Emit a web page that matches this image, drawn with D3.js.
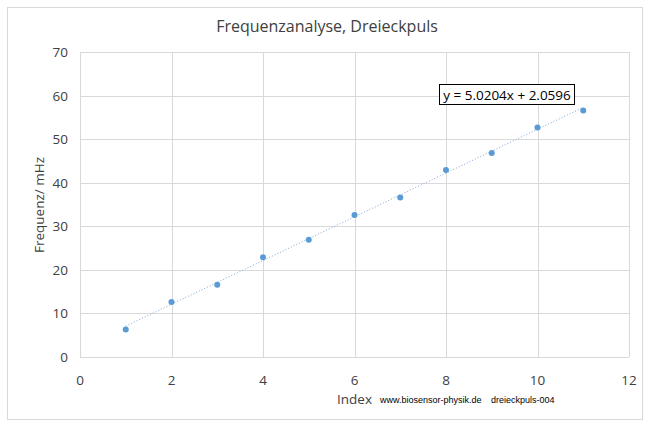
<!DOCTYPE html>
<html><head><meta charset="utf-8">
<script src="https://cdn.jsdelivr.net/npm/d3@7"></script>
<style>body{margin:0;background:#fff;}svg{display:block;}</style>
</head><body>
<svg id="c" width="650" height="426"></svg>
<script>
const xValues = [1,2,3,4,5,6,7,8,9,10,11];
const yValues = [6.3,12.6,16.6,22.9,26.9,32.6,36.6,42.9,46.8,52.7,56.6];
const xTicks = [0,2,4,6,8,10,12];
const yTicks = [0,10,20,30,40,50,60,70];
const slope = 5.0204, intercept = 2.0596;
const titleText = "Frequenz­analyse, Dreieckpuls".replace("\u00AD","");
const font = "'Open Sans', sans-serif";

const svg = d3.select("#c");
svg.append("rect").attr("x",7.5).attr("y",7.5).attr("width",635).attr("height",412)
  .attr("fill","#fff").attr("stroke","#d9d9d9");

const x = d3.scaleLinear().domain([0,12]).range([80,629]);
const y = d3.scaleLinear().domain([0,70]).range([357,52]);

const g = svg.append("g");
g.selectAll(".gy").data(yTicks).join("line")
  .attr("x1",x(0)).attr("x2",x(12)).attr("y1",d=>Math.round(y(d))+0.5).attr("y2",d=>Math.round(y(d))+0.5)
  .attr("stroke","#d9d9d9").attr("stroke-width",1);
g.selectAll(".gx").data(xTicks).join("line")
  .attr("y1",y(0)).attr("y2",y(70)).attr("x1",d=>Math.round(x(d))+0.5).attr("x2",d=>Math.round(x(d))+0.5)
  .attr("stroke","#d9d9d9").attr("stroke-width",1);

g.selectAll(".ty").data(yTicks).join("text")
  .attr("x",68).attr("y",d=>y(d)+5).attr("text-anchor","end")
  .attr("font-family",font).attr("font-size",13.5).attr("fill","#404040").text(d=>d);
g.selectAll(".tx").data(xTicks).join("text")
  .attr("x",d=>x(d)).attr("y",385).attr("text-anchor","middle")
  .attr("font-family",font).attr("font-size",13.5).attr("fill","#404040").text(d=>d);

// trendline
g.append("line").attr("x1",x(1)).attr("y1",y(slope*1+intercept))
  .attr("x2",x(11)).attr("y2",y(slope*11+intercept))
  .attr("stroke","#7fa7d6").attr("stroke-width",1).attr("stroke-dasharray","1,2");

g.selectAll(".pt").data(xValues).join("circle")
  .attr("cx",(d)=>x(d)).attr("cy",(d,i)=>y(yValues[i])).attr("r",3)
  .attr("fill","#5b9bd5");

// equation box
svg.append("rect").attr("x",439.5).attr("y",84.5).attr("width",135).attr("height",20)
  .attr("fill","#fff").attr("stroke","#000").attr("stroke-width",1);
svg.append("text").attr("x",507).attr("y",99.5).attr("text-anchor","middle")
  .attr("font-family",font).attr("font-size",13.5).attr("fill","#000")
  .text(`y = ${slope.toFixed(4)}x + ${intercept.toFixed(4)}`);

svg.append("text").attr("x",327).attr("y",32).attr("text-anchor","middle")
  .attr("font-family",font).attr("font-size",16).attr("fill","#404040").text("Frequenzanalyse, Dreieckpuls");

svg.append("text").attr("transform","translate(44,205) rotate(-90)").attr("text-anchor","middle")
  .attr("font-family",font).attr("font-size",13.5).attr("fill","#404040").text("Frequenz/ mHz");

svg.append("text").attr("x",337).attr("y",404)
  .attr("font-family",font).attr("font-size",13.5).attr("fill","#404040").text("Index");
svg.append("text").attr("x",380).attr("y",403)
  .attr("font-family","'Liberation Sans Narrow','Liberation Sans',sans-serif").attr("font-size",9).attr("fill","#000").text("www.biosensor-physik.de");
svg.append("text").attr("x",491).attr("y",403)
  .attr("font-family","'Liberation Sans Narrow','Liberation Sans',sans-serif").attr("font-size",9).attr("fill","#000").text("dreieckpuls-004");
</script>
</body></html>
